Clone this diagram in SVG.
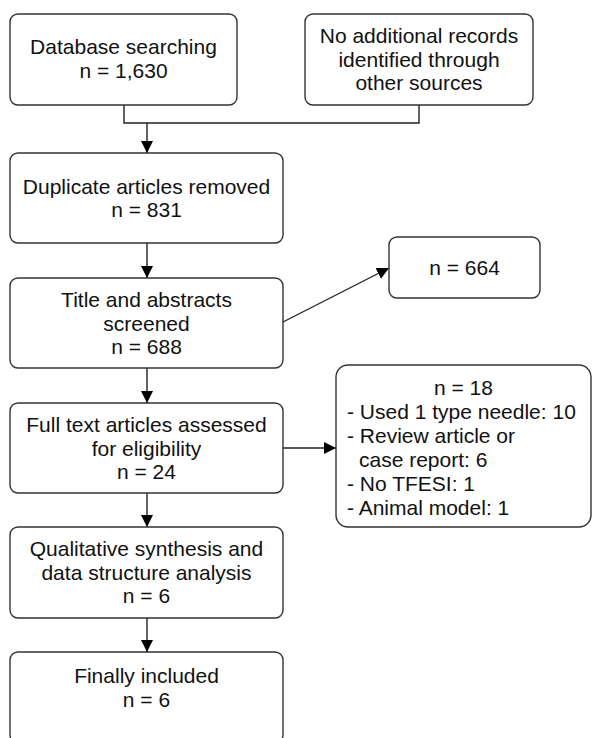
<svg xmlns="http://www.w3.org/2000/svg" width="592" height="738" viewBox="0 0 592 738">
<style>
.box{fill:#fff;stroke:#333;stroke-width:1.4}
.t{font-family:"Liberation Sans",Arial,sans-serif;font-size:21px;fill:#111;text-anchor:middle}
.l{font-family:"Liberation Sans",Arial,sans-serif;font-size:21px;fill:#111}
.c{fill:none;stroke:#222;stroke-width:1.4}
</style>
<defs>
<marker id="ah" markerWidth="12" markerHeight="12" viewBox="0 0 12 12" refX="12" refY="6" orient="auto" markerUnits="userSpaceOnUse">
<path d="M0,0 L12,6 L0,12 Z" fill="#000"/>
</marker>
</defs>
<rect width="592" height="738" fill="#fff"/>
<g id="connectors">
<path class="c" d="M124,105 V123 H419 V105"/>
<path class="c" d="M147,123 V153" marker-end="url(#ah)"/>
<path class="c" d="M147,243 V278" marker-end="url(#ah)"/>
<path class="c" d="M283,322 L389,268" marker-end="url(#ah)"/>
<path class="c" d="M147,368 V403" marker-end="url(#ah)"/>
<path class="c" d="M283,448 H336" marker-end="url(#ah)"/>
<path class="c" d="M147,493 V527" marker-end="url(#ah)"/>
<path class="c" d="M147,618 V652" marker-end="url(#ah)"/>
</g>
<g id="db">
<rect class="box" x="10" y="14" width="227" height="91" rx="8"/>
<text class="t" x="123.5" y="54">Database searching</text>
<text class="t" x="123.5" y="78">n = 1,630</text>
</g>
<g id="other">
<rect class="box" x="305" y="14" width="228" height="91" rx="8"/>
<text class="t" x="419" y="43">No additional records</text>
<text class="t" x="419" y="67">identified through</text>
<text class="t" x="419" y="90">other sources</text>
</g>
<g id="dup">
<rect class="box" x="10" y="153" width="273" height="90" rx="8"/>
<text class="t" x="146.5" y="194">Duplicate articles removed</text>
<text class="t" x="146.5" y="217">n = 831</text>
</g>
<g id="title">
<rect class="box" x="10" y="278" width="273" height="90" rx="8"/>
<text class="t" x="146.5" y="307">Title and abstracts</text>
<text class="t" x="146.5" y="331">screened</text>
<text class="t" x="146.5" y="354">n = 688</text>
</g>
<g id="excl1">
<rect class="box" x="389" y="237" width="151" height="61" rx="8"/>
<text class="t" x="464.5" y="275">n = 664</text>
</g>
<g id="full">
<rect class="box" x="10" y="403" width="273" height="90" rx="8"/>
<text class="t" x="146.5" y="432">Full text articles assessed</text>
<text class="t" x="146.5" y="456">for eligibility</text>
<text class="t" x="146.5" y="479">n = 24</text>
</g>
<g id="excl2">
<rect class="box" x="336" y="365" width="255" height="162" rx="12"/>
<text class="t" x="463.5" y="395">n = 18</text>
<text class="l" x="347" y="419">- Used 1 type needle: 10</text>
<text class="l" x="347" y="443">- Review article or</text>
<text class="l" x="359" y="467">case report: 6</text>
<text class="l" x="347" y="491">- No TFESI: 1</text>
<text class="l" x="347" y="515">- Animal model: 1</text>
</g>
<g id="qual">
<rect class="box" x="10" y="527" width="273" height="91" rx="8"/>
<text class="t" x="146.5" y="556">Qualitative synthesis and</text>
<text class="t" x="146.5" y="580">data structure analysis</text>
<text class="t" x="146.5" y="603">n = 6</text>
</g>
<g id="final">
<rect class="box" x="10" y="652" width="273" height="91" rx="8"/>
<text class="t" x="146.5" y="683">Finally included</text>
<text class="t" x="146.5" y="707">n = 6</text>
</g>
</svg>
